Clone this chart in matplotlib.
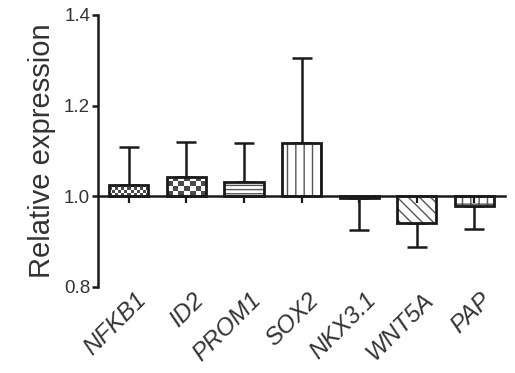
import numpy as np
import matplotlib
matplotlib.use("Agg")
import matplotlib.pyplot as plt

plt.rcParams["font.family"] = ["Liberation Sans", "DejaVu Sans"]
plt.rcParams["hatch.linewidth"] = 1.0

# Relative expression per gene (mean, one-sided SD)
genes = ["NFKB1", "ID2", "PROM1", "SOX2", "NKX3.1", "WNT5A", "PAP"]
means = [1.025, 1.043, 1.032, 1.117, 0.997, 0.942, 0.978]
errors = [0.083, 0.076, 0.085, 0.188, 0.072, 0.054, 0.051]
BASE = 1.0

# fill style per bar: ("checker", cell px) or ("hatch", pattern)
fills = [("checker", 3), ("checker", 5.5), ("hatch", "----"), ("hatch", "||"),
         ("hatch", ""), ("hatch", "\\\\\\"), ("hatch", "++")]

EDGE_LW = 2.0
BAR_W = 0.68

fig = plt.figure(figsize=(5.15, 3.73), dpi=100)
ax = fig.add_axes([0.190, 0.2306, 0.791, 0.7292])

x = np.arange(len(genes))
ax.set_xlim(-0.54, len(genes) - 1 + 0.54)
ax.set_ylim(0.8, 1.4)

heights = [m - BASE for m in means]

# hatched layer (grey hatch lines, no edge)
for xi, h, (kind, style) in zip(x, heights, fills):
    if kind == "hatch" and style:
        ax.bar(xi, h, BAR_W, bottom=BASE, facecolor="white", edgecolor="#555555",
               hatch=style, linewidth=0, zorder=1)
    elif kind == "hatch":
        ax.bar(xi, h, BAR_W, bottom=BASE, facecolor="white", linewidth=0, zorder=1)

# outline layer
bars = ax.bar(x, heights, BAR_W, bottom=BASE, facecolor="none", edgecolor="#1a1a1a",
              linewidth=EDGE_LW, zorder=1.4)

# checkerboard fills
for bar, (kind, cell) in zip(bars, fills):
    if kind != "checker":
        continue
    x0, y0 = bar.get_x(), bar.get_y()
    w, h = bar.get_width(), bar.get_height()
    p0 = ax.transData.transform((x0, y0))
    p1 = ax.transData.transform((x0 + w, y0 + h))
    nx = max(1, int(round(abs(p1[0] - p0[0]) / cell)))
    ny = max(1, int(round(abs(p1[1] - p0[1]) / cell)))
    board = np.add.outer(np.arange(ny), np.arange(nx)) % 2
    im = ax.imshow(board, cmap="Greys", vmin=0, vmax=1.3, extent=(x0, x0 + w, y0, y0 + h),
                   aspect="auto", interpolation="nearest", zorder=1.2)
    im.set_clip_path(bar)

ax.set_xlim(-0.54, len(genes) - 1 + 0.54)
ax.set_ylim(0.8, 1.4)

# one-sided error bars, pointing away from baseline
lower = [e if m < BASE else 0 for m, e in zip(means, errors)]
upper = [e if m >= BASE else 0 for m, e in zip(means, errors)]
ax.errorbar(x, means, yerr=[lower, upper], fmt="none", ecolor="#1a1a1a",
            elinewidth=1.8, capsize=7.5, capthick=1.8, zorder=0.9)

# axes styling
ax.set_axisbelow(False)
for s in ["top", "right"]:
    ax.spines[s].set_visible(False)
ax.spines["bottom"].set_position(("data", BASE))
ax.spines["left"].set_linewidth(1.8)
ax.spines["bottom"].set_linewidth(1.8)
ax.spines["left"].set_color("#1a1a1a")
ax.spines["bottom"].set_color("#1a1a1a")

ax.set_yticks([0.8, 1.0, 1.2, 1.4])
ax.set_yticklabels(["0.8", "1.0", "1.2", "1.4"])
ax.tick_params(axis="y", direction="out", length=4.5, width=1.8, pad=1,
               labelsize=13.5, color="#1a1a1a", labelcolor="#333333")
ax.set_xticks(x)
ax.tick_params(axis="x", direction="out", length=5, width=1.6, labelbottom=False,
               color="#1a1a1a")

ax.set_ylabel("Relative expression", fontsize=21, color="#333333", labelpad=6)

# gene names under the plot, italic and rotated
for xi, g in zip(x, genes):
    ax.annotate(g, xy=(xi, 0), xycoords=ax.get_xaxis_transform(),
                xytext=(4, -1), textcoords="offset points",
                rotation=45, ha="right", va="top", rotation_mode="anchor",
                fontsize=17.5, fontstyle="italic", color="#333333")

fig.savefig("out.png", dpi=100, facecolor="white")
